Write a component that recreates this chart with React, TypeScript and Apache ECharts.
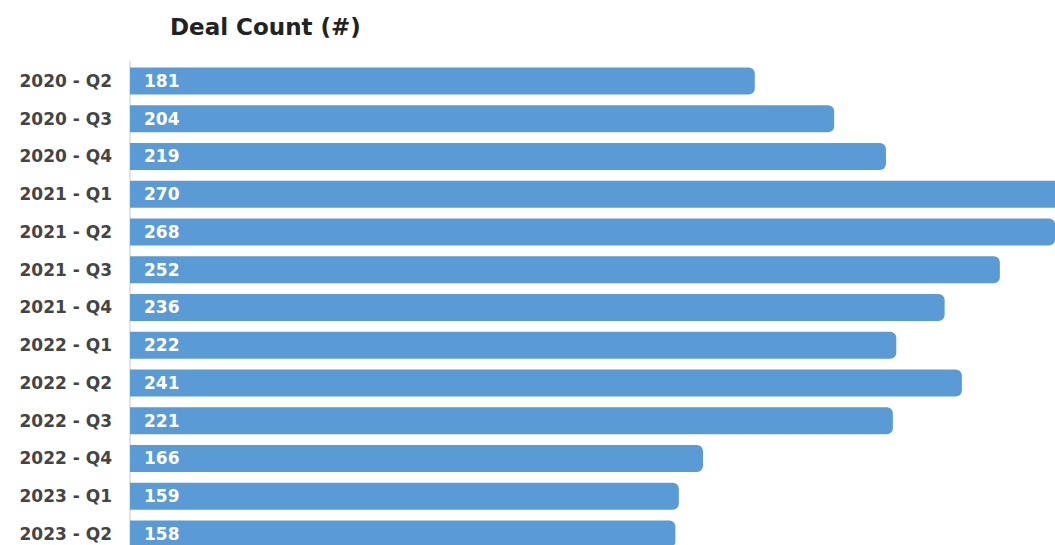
import React, { useEffect, useRef } from "react";
import * as echarts from "echarts";

const categories = [
  "2020 - Q2", "2020 - Q3", "2020 - Q4", "2021 - Q1", "2021 - Q2", "2021 - Q3", "2021 - Q4",
  "2022 - Q1", "2022 - Q2", "2022 - Q3", "2022 - Q4", "2023 - Q1", "2023 - Q2",
];
const dealCounts = [181, 204, 219, 270, 268, 252, 236, 222, 241, 221, 166, 159, 158];
const titleText = "Deal Count (#)";

const FONT = "'DejaVu Sans', 'Open Sans', sans-serif";

export default function App() {
  const ref = useRef<HTMLDivElement>(null);
  useEffect(() => {
    if (!ref.current) return;
    const chart = echarts.init(ref.current, null, { renderer: "svg" });
    chart.setOption({
      animation: false,
      backgroundColor: "#ffffff",
      title: {
        text: titleText,
        left: 165,
        top: 10,
        textStyle: { fontFamily: FONT, fontWeight: "bold", fontSize: 23, color: "#222222" },
      },
      grid: { left: 130, top: 62.1, width: 932, height: 490.75, containLabel: false },
      xAxis: {
        type: "value",
        min: 0,
        max: 270,
        show: false,
      },
      yAxis: {
        type: "category",
        data: categories,
        inverse: true,
        axisLine: { show: true, lineStyle: { color: "#e3e3e3", width: 2 } },
        axisTick: { show: false },
        axisLabel: {
          margin: 18,
          fontFamily: FONT,
          fontWeight: "bold",
          fontSize: 17,
          color: "#444444",
        },
      },
      series: [
        {
          type: "bar",
          data: dealCounts,
          barWidth: 27,
          itemStyle: { color: "#5b9bd5", borderRadius: [0, 6, 6, 0] },
          label: {
            show: true,
            position: "insideLeft",
            distance: 14,
            fontFamily: FONT,
            fontWeight: "bold",
            fontSize: 17,
            color: "#ffffff",
          },
        },
      ],
    });
    return () => chart.dispose();
  }, []);
  return (
    <div
      style={{
        position: "fixed",
        left: 0,
        top: 0,
        width: 1055,
        height: 545,
        overflow: "hidden",
        background: "#ffffff",
      }}
    >
      <div ref={ref} style={{ width: 1100, height: 600 }} />
    </div>
  );
}
